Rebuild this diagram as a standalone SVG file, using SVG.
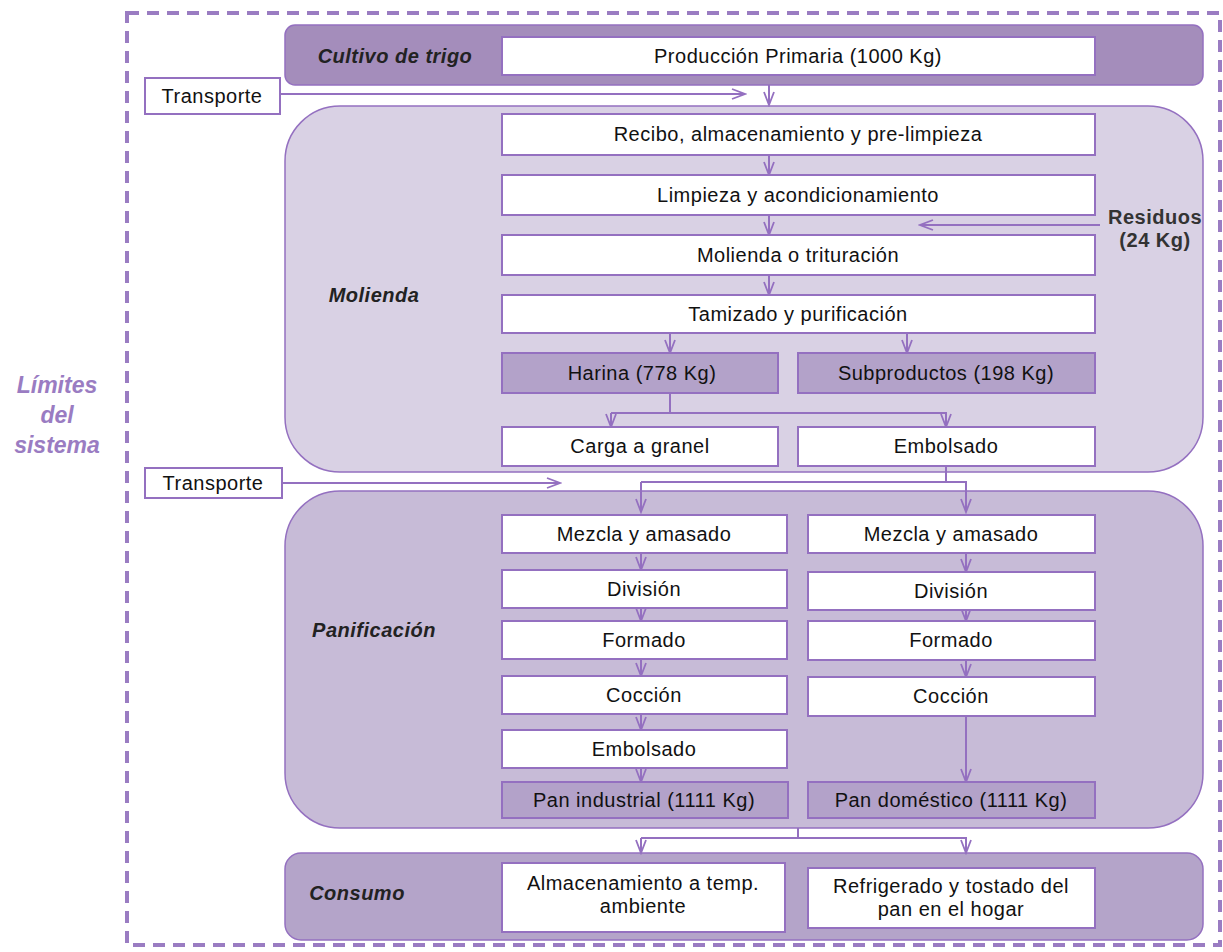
<svg xmlns="http://www.w3.org/2000/svg" width="1223" height="952" viewBox="0 0 1223 952">
<defs>
<marker id="ah" markerWidth="16" markerHeight="12" refX="14" refY="6" orient="auto" markerUnits="userSpaceOnUse">
<path d="M1,1 L14,6 L1,11" fill="none" stroke="#9470c0" stroke-width="1.8"/>
</marker>
</defs>
<style>
.band{stroke:#9470c0;stroke-width:1.5}
.box{fill:#ffffff;stroke:#9470c0;stroke-width:2}
.dbox{fill:#b3a2c9;stroke:#9470c0;stroke-width:2}
.t{font-family:"Liberation Sans",Arial,sans-serif;font-size:20px;letter-spacing:0.5px;fill:#111;text-anchor:middle}
.lbl{font-family:"Liberation Sans",Arial,sans-serif;font-size:20px;letter-spacing:0.5px;font-weight:bold;font-style:italic;fill:#222;text-anchor:middle}
.res{font-family:"Liberation Sans",Arial,sans-serif;font-size:20px;letter-spacing:0.5px;font-weight:bold;fill:#333;text-anchor:middle}
.lim{font-family:"Liberation Sans",Arial,sans-serif;font-size:23px;font-weight:bold;font-style:italic;fill:#9a7cc2;text-anchor:middle}
.c{fill:none;stroke:#9470c0;stroke-width:2}
.ca{fill:none;stroke:#9470c0;stroke-width:2;marker-end:url(#ah)}
</style>
<rect x="0" y="0" width="1223" height="952" fill="#ffffff"/>
<rect id="limites" x="127" y="13" width="1093" height="932" fill="none" stroke="#9a7cc2" stroke-width="4" stroke-dasharray="12 8"/>
<g id="limites-label">
<text class="lim" x="57" y="393">Límites</text>
<text class="lim" x="57" y="423">del</text>
<text class="lim" x="57" y="453">sistema</text>
</g>
<g id="cultivo">
<rect class="band" x="285" y="25" width="918" height="60" rx="10" fill="#a48dbb"/>
<text class="lbl" x="395" y="63">Cultivo de trigo</text>
</g>
<g id="molienda">
<rect class="band" x="285" y="106" width="918" height="366" rx="55" fill="#d9d1e4"/>
<text class="lbl" x="374" y="302">Molienda</text>
</g>
<g id="panificacion">
<rect class="band" x="285" y="491" width="918" height="337" rx="55" fill="#c7bbd7"/>
<text class="lbl" x="374" y="637">Panificación</text>
</g>
<g id="consumo">
<rect class="band" x="285" y="853" width="918" height="87" rx="16" fill="#b4a4c9"/>
<text class="lbl" x="357" y="900">Consumo</text>
</g>
<g id="connectors">
<path class="ca" d="M280,94 H745"/>
<path class="ca" d="M769,85 V105"/>
<path class="ca" d="M769,155 V175"/>
<path class="ca" d="M769,215 V235"/>
<path class="ca" d="M1100,225 H920"/>
<path class="ca" d="M769,275 V295"/>
<path class="ca" d="M670,333 V353"/>
<path class="ca" d="M907,333 V353"/>
<path class="c" d="M670,393 V413"/>
<path class="ca" d="M611,413 V427"/>
<path class="ca" d="M611,413 H946 V427"/>
<path class="ca" d="M282,483 H560"/>
<path class="c" d="M946,466 V482"/>
<path class="ca" d="M641,482 V512"/>
<path class="ca" d="M641,482 H966 V512"/>
<path class="ca" d="M641,553 V570"/>
<path class="ca" d="M641,608 V621"/>
<path class="ca" d="M641,659 V676"/>
<path class="ca" d="M641,714 V730"/>
<path class="ca" d="M641,768 V782"/>
<path class="ca" d="M966,553 V572"/>
<path class="ca" d="M966,610 V621"/>
<path class="ca" d="M966,660 V677"/>
<path class="ca" d="M966,716 V782"/>
<path class="c" d="M798,828 V838"/>
<path class="ca" d="M641,838 V853"/>
<path class="ca" d="M641,838 H966 V853"/>
</g>
<g id="transporte1"><rect class="box" x="145" y="78" width="135" height="36"/><text class="t" x="212" y="103">Transporte</text></g>
<g id="transporte2"><rect class="box" x="145" y="468" width="137" height="30"/><text class="t" x="213" y="490">Transporte</text></g>
<g id="produccion"><rect class="box" x="502" y="37" width="593" height="38"/><text class="t" x="798" y="63">Producción Primaria (1000 Kg)</text></g>
<g id="recibo"><rect class="box" x="502" y="114" width="593" height="41"/><text class="t" x="798" y="141">Recibo, almacenamiento y pre-limpieza</text></g>
<g id="limpieza"><rect class="box" x="502" y="175" width="593" height="40"/><text class="t" x="798" y="202">Limpieza y acondicionamiento</text></g>
<g id="residuos"><text class="res" x="1155" y="224">Residuos</text><text class="res" x="1155" y="247">(24 Kg)</text></g>
<g id="trituracion"><rect class="box" x="502" y="235" width="593" height="40"/><text class="t" x="798" y="262">Molienda o trituración</text></g>
<g id="tamizado"><rect class="box" x="502" y="295" width="593" height="38"/><text class="t" x="798" y="321">Tamizado y purificación</text></g>
<g id="harina"><rect class="dbox" x="502" y="353" width="276" height="40"/><text class="t" x="642" y="380">Harina (778 Kg)</text></g>
<g id="subproductos"><rect class="dbox" x="798" y="353" width="297" height="40"/><text class="t" x="946" y="380">Subproductos (198 Kg)</text></g>
<g id="granel"><rect class="box" x="502" y="427" width="276" height="39"/><text class="t" x="640" y="453">Carga a granel</text></g>
<g id="embolsado1"><rect class="box" x="798" y="427" width="297" height="39"/><text class="t" x="946" y="453">Embolsado</text></g>
<g id="mezcla-i"><rect class="box" x="502" y="515" width="285" height="38"/><text class="t" x="644" y="541">Mezcla y amasado</text></g>
<g id="division-i"><rect class="box" x="502" y="570" width="285" height="38"/><text class="t" x="644" y="596">División</text></g>
<g id="formado-i"><rect class="box" x="502" y="621" width="285" height="38"/><text class="t" x="644" y="647">Formado</text></g>
<g id="coccion-i"><rect class="box" x="502" y="676" width="285" height="38"/><text class="t" x="644" y="702">Cocción</text></g>
<g id="embolsado-i"><rect class="box" x="502" y="730" width="285" height="38"/><text class="t" x="644" y="756">Embolsado</text></g>
<g id="pan-industrial"><rect class="dbox" x="502" y="782" width="286" height="36"/><text class="t" x="644" y="807">Pan industrial (1111 Kg)</text></g>
<g id="mezcla-d"><rect class="box" x="808" y="515" width="287" height="38"/><text class="t" x="951" y="541">Mezcla y amasado</text></g>
<g id="division-d"><rect class="box" x="808" y="572" width="287" height="38"/><text class="t" x="951" y="598">División</text></g>
<g id="formado-d"><rect class="box" x="808" y="621" width="287" height="39"/><text class="t" x="951" y="647">Formado</text></g>
<g id="coccion-d"><rect class="box" x="808" y="677" width="287" height="39"/><text class="t" x="951" y="703">Cocción</text></g>
<g id="pan-domestico"><rect class="dbox" x="808" y="782" width="287" height="36"/><text class="t" x="951" y="807">Pan doméstico (1111 Kg)</text></g>
<g id="almacenamiento"><rect class="box" x="502" y="863" width="283" height="69"/><text class="t" x="643" y="890">Almacenamiento a temp.</text><text class="t" x="643" y="913">ambiente</text></g>
<g id="refrigerado"><rect class="box" x="808" y="868" width="287" height="60"/><text class="t" x="951" y="893">Refrigerado y tostado del</text><text class="t" x="951" y="916">pan en el hogar</text></g>
</svg>
